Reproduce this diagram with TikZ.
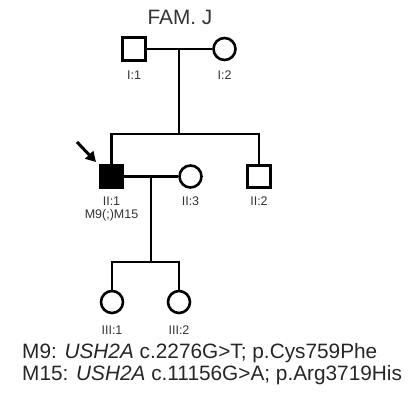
\documentclass[tikz,border=0pt]{standalone}
\usepackage{fontspec}
\setmainfont{Liberation Sans}
\usepackage{tikz}
\usetikzlibrary{arrows.meta,positioning}

\begin{document}
\begin{tikzpicture}[
  x=1pt, y=-1pt,
  male/.style={draw, rectangle, line width=2.6pt, minimum size=22.5pt, inner sep=0pt},
  female/.style={draw, circle, line width=2.6pt, minimum size=22pt, inner sep=0pt},
  affected/.style={fill=black},
  idlbl/.style={inner sep=0pt, text=black!80, font=\fontsize{12.5}{12.5}\selectfont},
  rel/.style={line width=2.6pt},
  proband/.style={line width=3pt, -{Triangle[length=10pt,width=11pt]}}
]
\useasboundingbox (0,0) rectangle (420,394);

\node[text=black!80, font=\fontsize{20.8}{20.8}\selectfont] (fam) at (180,17) {FAM. J};

% generation I
\node[male] (i1) at (134,49) {};
\node[female] (i2) at (224.5,49) {};
\node[idlbl, below=9pt of i1] (li1) {I:1};
\node[idlbl, below=9pt of i2] (li2) {I:2};
\coordinate (m1) at (179,49);
\coordinate (s1) at (179,134);

% generation II
\node[male, affected] (ii1) at (111.5,176.5) {};
\node[female] (ii3) at (190.5,176.5) {};
\node[male] (ii2) at (259,176.5) {};
\node[idlbl, below=8pt of ii1] (lii1) {II:1};
\node[idlbl, below=3.5pt of lii1] (geno) {M9(;)M15};
\node[idlbl, below=8pt of ii3] (lii3) {II:3};
\node[idlbl, below=8pt of ii2] (lii2) {II:2};
\coordinate (m2) at (151,176.5);
\coordinate (s2) at (151,262);
\coordinate (prb) at (77,142);
\coordinate (prbtip) at (96,162);

% generation III
\node[female] (iii1) at (112,302) {};
\node[female] (iii2) at (179,302) {};
\node[idlbl, below=11pt of iii1] (liii1) {III:1};
\node[idlbl, below=11pt of iii2] (liii2) {III:2};

\draw[rel] (i1) -- (i2);
\draw[rel] (m1) -- (s1);
\draw[rel] (ii1.north) |- (s1) -| (ii2.north);
\draw[rel] (ii1) -- (ii3);
\draw[rel] (m2) -- (s2);
\draw[rel] (iii1.north) |- (s2) -| (iii2.north);
\draw[proband] (prb) -- (prbtip);

% variants
\node[anchor=west, inner sep=0pt, text=black!85, font=\fontsize{20.8}{20.8}\selectfont] (mut9) at (22,353) {M9: \textit{USH2A} c.2276G>T; p.Cys759Phe};
\node[anchor=west, inner sep=0pt, text=black!85, font=\fontsize{20.8}{20.8}\selectfont] (mut15) at (22,375) {M15: \textit{USH2A} c.11156G>A; p.Arg3719His};
\end{tikzpicture}
\end{document}
